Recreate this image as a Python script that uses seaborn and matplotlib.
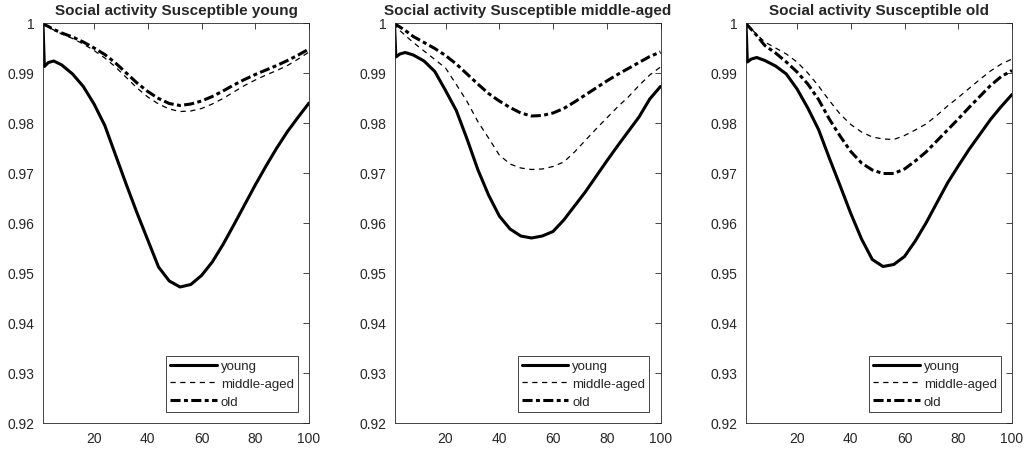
import matplotlib
matplotlib.use("Agg")
import matplotlib.pyplot as plt
import seaborn as sns
import numpy as np
import pandas as pd
from matplotlib.ticker import FuncFormatter, FixedLocator

sns.set_style("white")
plt.rcParams['font.family'] = ['Liberation Sans', 'DejaVu Sans']

# ---- data -------------------------------------------------------------
days = [1, 1.5, 3, 5, 8, 12, 16, 20, 24, 28, 32, 36, 40, 44, 48, 52, 56,
        60, 64, 68, 72, 76, 80, 84, 88, 92, 96, 100]

titles = ["Social activity Susceptible young",
          "Social activity Susceptible middle-aged",
          "Social activity Susceptible old"]
series_names = ["young", "middle-aged", "old"]

# panel 1: susceptible young
p1_young = [1.0, 0.9913, 0.9921, 0.9924, 0.9916, 0.9898, 0.9873, 0.9838, 0.9795,
            0.9736, 0.9677, 0.9620, 0.9566, 0.9512, 0.9484, 0.9472, 0.9477,
            0.9495, 0.9522, 0.9557, 0.9596, 0.9636, 0.9676, 0.9714, 0.9750,
            0.9783, 0.9812, 0.9840]
p1_middle = [1.0, 0.9996, 0.9992, 0.9986, 0.9978, 0.9969, 0.9958, 0.9945, 0.9930,
             0.9912, 0.9891, 0.9870, 0.9852, 0.9838, 0.9828, 0.9823, 0.9824,
             0.9829, 0.9838, 0.9849, 0.9862, 0.9875, 0.9886, 0.9896, 0.9905,
             0.9915, 0.9928, 0.9942]
p1_old = [1.0, 0.9997, 0.9993, 0.9987, 0.9980, 0.9972, 0.9962, 0.9950, 0.9937,
          0.9920, 0.9900, 0.9880, 0.9863, 0.9849, 0.9839, 0.9835, 0.9838,
          0.9844, 0.9853, 0.9864, 0.9876, 0.9887, 0.9897, 0.9906, 0.9915,
          0.9925, 0.9936, 0.9948]

# panel 2: susceptible middle-aged
p2_young = [1.0, 0.9932, 0.9938, 0.9941, 0.9936, 0.9924, 0.9903, 0.9865, 0.9825,
            0.9768, 0.9707, 0.9656, 0.9614, 0.9588, 0.9574, 0.9570, 0.9574,
            0.9583, 0.9606, 0.9634, 0.9662, 0.9693, 0.9724, 0.9754, 0.9783,
            0.9812, 0.9848, 0.9873]
p2_middle = [1.0, 0.9994, 0.9985, 0.9975, 0.9961, 0.9944, 0.9927, 0.9910, 0.9877,
             0.9843, 0.9803, 0.9770, 0.9736, 0.9718, 0.9710, 0.9707, 0.9708,
             0.9713, 0.9722, 0.9742, 0.9765, 0.9788, 0.9810, 0.9832, 0.9852,
             0.9875, 0.9896, 0.9912]
p2_old = [1.0, 0.9997, 0.9992, 0.9985, 0.9973, 0.9961, 0.9949, 0.9935, 0.9918,
          0.9898, 0.9878, 0.9859, 0.9844, 0.9831, 0.9820, 0.9814, 0.9815,
          0.9820, 0.9829, 0.9842, 0.9856, 0.9870, 0.9884, 0.9897, 0.9909,
          0.9921, 0.9933, 0.9942]

# panel 3: susceptible old
p3_young = [1.0, 0.9922, 0.9928, 0.9931, 0.9925, 0.9914, 0.9898, 0.9868, 0.9830,
            0.9787, 0.9730, 0.9675, 0.9619, 0.9568, 0.9527, 0.9513, 0.9517,
            0.9533, 0.9564, 0.9600, 0.9640, 0.9680, 0.9714, 0.9747, 0.9777,
            0.9807, 0.9833, 0.9857]
p3_middle = [1.0, 0.9996, 0.9988, 0.9977, 0.9962, 0.9950, 0.9938, 0.9922, 0.9900,
             0.9874, 0.9845, 0.9818, 0.9797, 0.9782, 0.9772, 0.9768, 0.9767,
             0.9775, 0.9786, 0.9798, 0.9815, 0.9834, 0.9851, 0.9869, 0.9887,
             0.9904, 0.9918, 0.9928]
p3_old = [1.0, 0.9996, 0.9987, 0.9975, 0.9955, 0.9940, 0.9922, 0.9902, 0.9878,
          0.9847, 0.9808, 0.9774, 0.9743, 0.9720, 0.9706, 0.9699, 0.9699,
          0.9708, 0.9724, 0.9742, 0.9764, 0.9786, 0.9808, 0.9831, 0.9853,
          0.9875, 0.9893, 0.9905]

panels = [(p1_young, p1_middle, p1_old),
          (p2_young, p2_middle, p2_old),
          (p3_young, p3_middle, p3_old)]

xticks = [20, 40, 60, 80, 100]
yticks = [0.92, 0.93, 0.94, 0.95, 0.96, 0.97, 0.98, 0.99, 1.0]

# ---- styles -----------------------------------------------------------
line_styles = {
    "young": dict(linestyle="-", linewidth=2.2),
    "middle-aged": dict(linestyle=(0, (4.2, 3.6)), linewidth=0.9),
    "old": dict(linestyle=(0, (3.3, 1.1, 1.3, 1.1)), linewidth=2.2),
}

W, H = 1025, 452
fig = plt.figure(figsize=(W / 100, H / 100), dpi=100)
lefts = [43, 394.5, 746]
ax_w = 266
top_px, bottom_px = 24, 424

for i, (vals, title) in enumerate(zip(panels, titles)):
    ax = fig.add_axes([lefts[i] / W, (H - bottom_px) / H, ax_w / W,
                       (bottom_px - top_px) / H])
    for name, v in zip(series_names, vals):
        df = pd.DataFrame({"day": days, "value": v})
        sns.lineplot(data=df, x="day", y="value", ax=ax, color="black",
                     label=name, **line_styles[name])
    ax.set_xlim(1, 100)
    ax.set_ylim(0.92, 1.0)
    ax.xaxis.set_major_locator(FixedLocator(xticks))
    ax.yaxis.set_major_locator(FixedLocator(yticks))
    ax.yaxis.set_major_formatter(FuncFormatter(lambda v, p: f"{v:g}"))
    ax.set_xlabel("")
    ax.set_ylabel("")
    ax.tick_params(direction="in", length=4, width=0.6, top=True, right=True,
                   labelsize=10, colors="#262626", pad=6)
    for s in ax.spines.values():
        s.set_color("#262626")
        s.set_linewidth(0.6)
    ax.set_title(title, fontsize=11, fontweight="bold", pad=6.5)
    leg = ax.legend(loc="lower right", fontsize=9.5, frameon=True,
                    fancybox=False, edgecolor="#262626", framealpha=1,
                    handlelength=3.55, handletextpad=0.3, labelspacing=0.42,
                    borderpad=0.3, borderaxespad=0.85)
    leg.get_frame().set_linewidth(0.6)

fig.savefig("out.png", dpi=100)
